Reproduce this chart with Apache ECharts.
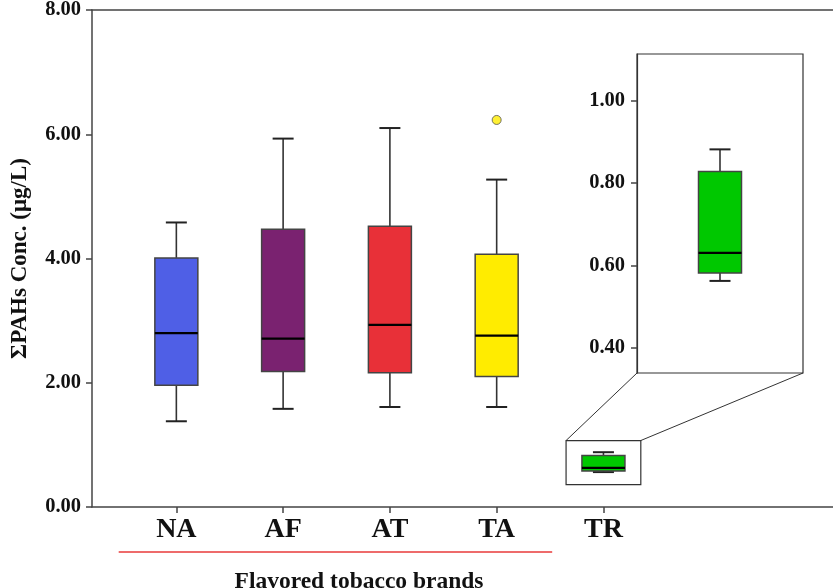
<!DOCTYPE html>
<html>
<head>
<meta charset="utf-8">
<script src="https://cdn.jsdelivr.net/npm/echarts@6/dist/echarts.min.js"></script>
<style>
  html, body { margin: 0; padding: 0; background: #fff; }
  #chart { width: 833px; height: 588px; }
</style>
</head>
<body>
<div id="chart"></div>
<script>
const CATEGORIES = ['NA', 'AF', 'AT', 'TA', 'TR'];
const WHISKER_LOW = [1.38, 1.58, 1.61, 1.61, 0.562];
const Q1 = [1.96, 2.18, 2.16, 2.10, 0.581];
const MEDIAN = [2.80, 2.71, 2.93, 2.76, 0.630];
const Q3 = [4.01, 4.47, 4.52, 4.07, 0.828];
const WHISKER_HIGH = [4.58, 5.93, 6.10, 5.27, 0.882];
const OUTLIERS = [['TA', 6.23]];
const BOX_COLORS = ['#4f5fe6', '#7a2270', '#e83038', '#ffec00', '#00c800'];
const INSET_TICKS = [0.4, 0.6, 0.8, 1.0];
// zoomed region around TR: x from/to (category position), y from/to
const ZOOM_REGION = [4.65, 5.35, 0.36, 1.07];

const FONT = 'Liberation Serif';
const BOX_W = 43;
const CAP_W = 21;
const INSET = { left: 637, top: 54, width: 166, height: 319 };

const chart = echarts.init(document.getElementById('chart'), null, { renderer: 'canvas' });

function renderBox(params, api) {
  const x = api.value(0);
  const lo = api.coord([x, api.value(1)]);
  const q1 = api.coord([x, api.value(2)]);
  const med = api.coord([x, api.value(3)]);
  const q3 = api.coord([x, api.value(4)]);
  const hi = api.coord([x, api.value(5)]);
  const cx = lo[0];
  const color = params.seriesId === 'inset' ? BOX_COLORS[CATEGORIES.indexOf('TR')] : BOX_COLORS[params.dataIndex];
  const lineStyle = { stroke: '#333', lineWidth: 1.6 };
  return {
    type: 'group',
    children: [
      { type: 'line', shape: { x1: cx, y1: q3[1], x2: cx, y2: hi[1] }, style: lineStyle },
      { type: 'line', shape: { x1: cx, y1: q1[1], x2: cx, y2: lo[1] }, style: lineStyle },
      { type: 'line', shape: { x1: cx - CAP_W / 2, y1: hi[1], x2: cx + CAP_W / 2, y2: hi[1] }, style: { stroke: '#222', lineWidth: 2 } },
      { type: 'line', shape: { x1: cx - CAP_W / 2, y1: lo[1], x2: cx + CAP_W / 2, y2: lo[1] }, style: { stroke: '#222', lineWidth: 2 } },
      {
        type: 'rect',
        shape: { x: cx - BOX_W / 2, y: q3[1], width: BOX_W, height: q1[1] - q3[1] },
        style: { fill: color, stroke: '#444', lineWidth: 1.5 },
      },
      { type: 'line', shape: { x1: cx - BOX_W / 2, y1: med[1], x2: cx + BOX_W / 2, y2: med[1] }, style: { stroke: '#000', lineWidth: 2.2 } },
    ],
  };
}

const mainData = CATEGORIES.map((name, i) => [i + 1, WHISKER_LOW[i], Q1[i], MEDIAN[i], Q3[i], WHISKER_HIGH[i]]);
const trIndex = CATEGORIES.indexOf('TR');
const insetData = [[1, WHISKER_LOW[trIndex], Q1[trIndex], MEDIAN[trIndex], Q3[trIndex], WHISKER_HIGH[trIndex]]];
const outlierData = OUTLIERS.map(([name, v]) => [CATEGORIES.indexOf(name) + 1, v]);

const labelFont = { fontFamily: FONT, fontWeight: 'bold', color: '#111' };

const option = {
  animation: false,
  backgroundColor: '#fff',
  title: {
    text: 'Flavored tobacco brands',
    left: 354,
    top: 565,
    textAlign: 'center',
    textStyle: { fontFamily: FONT, fontWeight: 'bold', fontSize: 23.5, color: '#111' },
  },
  grid: [
    { left: 92, right: 0, top: 10, bottom: 81, outerBoundsMode: 'none', containLabel: false },
    {
      left: INSET.left, top: INSET.top, width: INSET.width, height: INSET.height,
      outerBoundsMode: 'none', containLabel: false,
      show: true, borderColor: '#333', borderWidth: 1.2, backgroundColor: '#fff',
    },
  ],
  xAxis: [
    {
      type: 'value', gridIndex: 0, min: 0.21, max: 7.15, position: 'bottom',
      splitLine: { show: false },
      axisLine: { lineStyle: { color: '#444', width: 1.5 } },
      axisTick: { customValues: [1, 2, 3, 4, 5], length: 6, lineStyle: { color: '#444', width: 1.5 } },
      axisLabel: {
        customValues: [1, 2, 3, 4, 5],
        formatter: (v) => CATEGORIES[Math.round(v) - 1] || '',
        margin: 9, fontSize: 28, ...labelFont,
      },
    },
    {
      type: 'value', gridIndex: 0, min: 0.21, max: 7.15, position: 'top',
      splitLine: { show: false },
      axisLine: { show: true, lineStyle: { color: '#444', width: 1.5 } },
      axisTick: { show: false }, axisLabel: { show: false },
    },
    {
      type: 'value', gridIndex: 1, min: 0, max: 2,
      show: false,
    },
  ],
  yAxis: [
    {
      type: 'value', gridIndex: 0, min: 0, max: 8, interval: 2,
      name: 'ΣPAHs Conc. (μg/L)', nameLocation: 'middle', nameGap: 60,
      nameTextStyle: { fontFamily: FONT, fontWeight: 'bold', fontSize: 23, color: '#111' },
      splitLine: { show: false },
      axisLine: { show: true, lineStyle: { color: '#444', width: 1.5 } },
      axisTick: { show: true, length: 6, lineStyle: { color: '#444', width: 1.5 } },
      axisLabel: { formatter: (v) => v.toFixed(2), margin: 11, fontSize: 20.5, ...labelFont },
    },
    {
      type: 'value', gridIndex: 1, min: 0.338, max: 1.114,
      splitLine: { show: false },
      axisLine: { show: true, lineStyle: { color: '#333', width: 1.2 } },
      axisTick: { show: true, customValues: INSET_TICKS, length: 6, lineStyle: { color: '#444', width: 1.5 } },
      axisLabel: { customValues: INSET_TICKS, formatter: (v) => v.toFixed(2), margin: 12, fontSize: 20.5, ...labelFont },
    },
  ],
  series: [
    {
      id: 'main',
      type: 'custom',
      xAxisIndex: 0, yAxisIndex: 0,
      renderItem: renderBox,
      encode: { x: 0, y: [1, 2, 3, 4, 5] },
      data: mainData,
      markArea: {
        silent: true,
        itemStyle: { color: 'rgba(0,0,0,0)', borderColor: '#333', borderWidth: 1.2 },
        data: [[{ coord: [ZOOM_REGION[0], ZOOM_REGION[2]] }, { coord: [ZOOM_REGION[1], ZOOM_REGION[3]] }]],
      },
    },
    {
      id: 'outliers',
      type: 'scatter',
      xAxisIndex: 0, yAxisIndex: 0,
      symbolSize: 9,
      itemStyle: { color: BOX_COLORS[CATEGORIES.indexOf('TA')], borderColor: '#555', borderWidth: 1 },
      data: outlierData,
    },
    {
      id: 'inset',
      type: 'custom',
      xAxisIndex: 2, yAxisIndex: 1,
      renderItem: renderBox,
      encode: { x: 0, y: [1, 2, 3, 4, 5] },
      data: insetData,
    },
  ],
};

chart.setOption(option);

// connector lines from zoomed region to inset, plus the red underline of flavored brands
const topLeft = chart.convertToPixel({ gridIndex: 0 }, [ZOOM_REGION[0], ZOOM_REGION[3]]);
const topRight = chart.convertToPixel({ gridIndex: 0 }, [ZOOM_REGION[1], ZOOM_REGION[3]]);
const insetBottom = INSET.top + INSET.height;
const underlineStart = chart.convertToPixel({ gridIndex: 0 }, [0.46, 0]);
const underlineEnd = chart.convertToPixel({ gridIndex: 0 }, [4.52, 0]);

chart.setOption({
  graphic: [
    {
      type: 'line', silent: true,
      shape: { x1: topLeft[0], y1: topLeft[1], x2: INSET.left, y2: insetBottom },
      style: { stroke: '#333', lineWidth: 1 },
    },
    {
      type: 'line', silent: true,
      shape: { x1: topRight[0], y1: topRight[1], x2: INSET.left + INSET.width, y2: insetBottom },
      style: { stroke: '#333', lineWidth: 1 },
    },
    {
      type: 'line', silent: true,
      shape: { x1: underlineStart[0], y1: 552, x2: underlineEnd[0], y2: 552 },
      style: { stroke: '#e83a3a', lineWidth: 1.5 },
    },
  ],
});

window.addEventListener('resize', () => chart.resize());
</script>
</body>
</html>
